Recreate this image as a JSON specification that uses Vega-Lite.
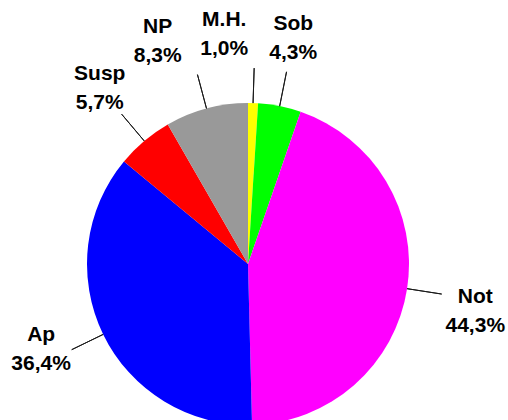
{
  "$schema": "https://vega.github.io/schema/vega-lite/v6.json",
  "width": 496,
  "height": 528,
  "autosize": {"type": "none"},
  "padding": {"left": 0, "top": 0, "right": 12, "bottom": -108},
  "background": "white",
  "config": {
    "view": {"stroke": null},
    "locale": {"number": {"decimal": ",", "thousands": ".", "grouping": [3], "currency": ["", " €"]}}
  },
  "data": {
    "values": [
      {"cat": "M.H.", "share": 0.010},
      {"cat": "Sob", "share": 0.043},
      {"cat": "Not", "share": 0.443},
      {"cat": "Ap", "share": 0.364},
      {"cat": "Susp", "share": 0.057},
      {"cat": "NP", "share": 0.083}
    ]
  },
  "encoding": {
    "theta": {"field": "share", "type": "quantitative", "stack": true}
  },
  "layer": [
    {
      "mark": {"type": "arc", "radius": 161},
      "encoding": {
        "color": {
          "condition": [
            {"test": "datum.cat === 'M.H.'", "value": "#FFFF00"},
            {"test": "datum.cat === 'Sob'", "value": "#00FF00"},
            {"test": "datum.cat === 'Not'", "value": "#FF00FF"},
            {"test": "datum.cat === 'Ap'", "value": "#0000FF"},
            {"test": "datum.cat === 'Susp'", "value": "#FF0000"}
          ],
          "value": "#999999"
        }
      }
    },
    {
      "mark": {"type": "arc", "radius": 196, "radius2": 161, "padAngle": 3, "filled": false, "stroke": "#1a1a1a", "strokeWidth": 1},
      "encoding": {}
    },
    {
      "mark": {
        "type": "text", "radius": 230, "fontSize": 21, "fontWeight": "bold", "font": "Liberation Sans", "color": "#000000",
        "text": {"expr": "datum.cat"},
        "dx": {"expr": "datum.cat === 'NP' || datum.cat === 'M.H.' ? -31 : 0"},
        "dy": {"expr": "-14.5 + (datum.cat === 'Ap' ? -15 : datum.cat === 'Not' ? 12 : 0)"}
      },
      "encoding": {}
    },
    {
      "mark": {
        "type": "text", "radius": 230, "fontSize": 21, "fontWeight": "bold", "font": "Liberation Sans", "color": "#000000",
        "text": {"expr": "format(datum.share, '.1%')"},
        "dx": {"expr": "datum.cat === 'NP' || datum.cat === 'M.H.' ? -31 : 0"},
        "dy": {"expr": "14.5 + (datum.cat === 'Ap' ? -15 : datum.cat === 'Not' ? 12 : 0)"}
      },
      "encoding": {}
    }
  ]
}
